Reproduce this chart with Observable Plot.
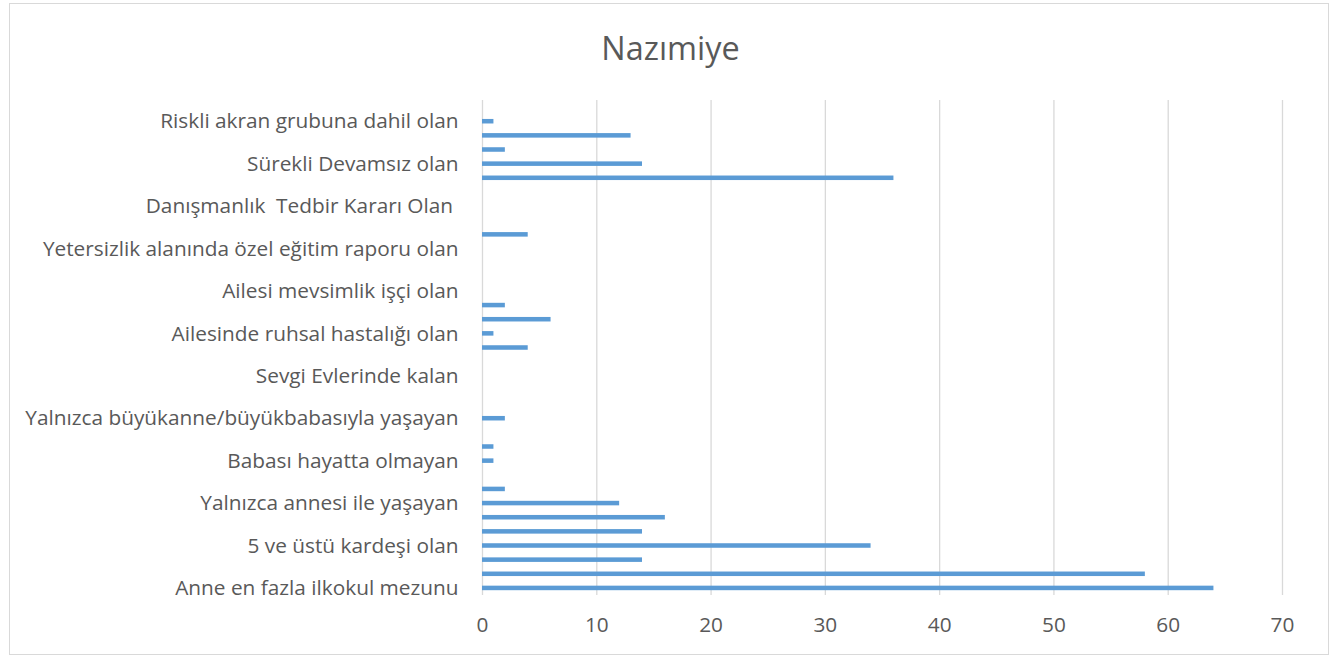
<!DOCTYPE html>
<html>
<head>
<meta charset="utf-8">
<script src="https://cdn.jsdelivr.net/npm/d3@7"></script>
<script src="https://cdn.jsdelivr.net/npm/@observablehq/plot@0.6"></script>
<style>
  html, body { margin: 0; padding: 0; background: #fff; }
  #frame { position: absolute; left: 9px; top: 3px; width: 1320px; height: 652px; border: 1px solid #d9d9d9; box-sizing: border-box; }
  #title { position: absolute; left: 0; top: 0; width: 1341px; height: 80px; text-align: center; font-family: "Open Sans", Lato, sans-serif; font-size: 32.4px; color: #595959; line-height: 94px; }
  #chart { position: absolute; left: 0; top: 80px; }
  #chart svg text { white-space: pre; }
</style>
</head>
<body>
<div id="frame"></div>
<div id="title">Nazımiye</div>
<div id="chart"></div>
<script>
// Categories listed bottom to top (index 0 = bottom row). Only every third label is shown in the chart.
const categories = [
  "Anne en fazla ilkokul mezunu",
  "Kategori 2",
  "Kategori 3",
  "5 ve üstü kardeşi olan",
  "Kategori 5",
  "Kategori 6",
  "Yalnızca annesi ile yaşayan",
  "Kategori 8",
  "Kategori 9",
  "Babası hayatta olmayan",
  "Kategori 11",
  "Kategori 12",
  "Yalnızca büyükanne/büyükbabasıyla yaşayan",
  "Kategori 14",
  "Kategori 15",
  "Sevgi Evlerinde kalan",
  "Kategori 17",
  "Kategori 18",
  "Ailesinde ruhsal hastalığı olan",
  "Kategori 20",
  "Kategori 21",
  "Ailesi mevsimlik işçi olan",
  "Kategori 23",
  "Kategori 24",
  "Yetersizlik alanında özel eğitim raporu olan",
  "Kategori 26",
  "Kategori 27",
  "Danışmanlık  Tedbir Kararı Olan ",
  "Kategori 29",
  "Kategori 30",
  "Sürekli Devamsız olan",
  "Kategori 32",
  "Kategori 33",
  "Riskli akran grubuna dahil olan",
  "Kategori 35"
];
const values = [64, 58, 14, 34, 14, 16, 12, 2, 0, 1, 1, 0, 2, 0, 0, 0, 0, 4, 1, 6, 2, 0, 0, 0, 0, 4, 0, 0, 0, 36, 14, 2, 13, 1, 0];
const xTicks = [0, 10, 20, 30, 40, 50, 60, 70];

const data = categories.map((c, i) => ({category: c, value: values[i], index: i}));
const shown = new Set(categories.filter((c, i) => i % 3 === 0));

const chart = Plot.plot({
  width: 1341,
  height: 579,
  marginTop: 20,
  marginBottom: 64,
  marginLeft: 482,
  marginRight: 59,
  style: {fontFamily: "'Open Sans', Lato, sans-serif", fontSize: "20.8px", color: "#595959", background: "transparent"},
  x: {domain: [0, 70], ticks: xTicks, label: null},
  y: {domain: categories.slice().reverse(), paddingInner: 0.68, paddingOuter: 0.34, round: false, label: null},
  marks: [
    Plot.gridX(xTicks, {stroke: "#d9d9d9", strokeOpacity: 1, strokeWidth: 1.3}),
    Plot.barX(data, {x: "value", y: "category", fill: "#5b9bd5"}),
    Plot.axisX({ticks: xTicks, tickSize: 0, tickPadding: 22, label: null, fill: "#595959"}),
    Plot.axisY({tickSize: 0, tickPadding: 24, label: null, fill: "#595959", tickFormat: d => shown.has(d) ? d : ""})
  ]
});
document.getElementById("chart").appendChild(chart);
</script>
</body>
</html>
